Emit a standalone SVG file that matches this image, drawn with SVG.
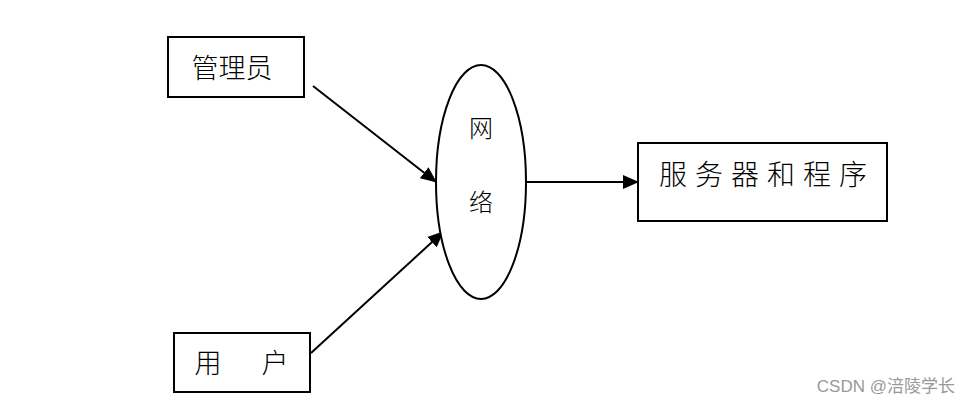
<svg xmlns="http://www.w3.org/2000/svg" width="971" height="404" viewBox="0 0 971 404">
<style>
.box{fill:#fff;stroke:#000;stroke-width:2}
.lbl{font-family:"Noto Sans CJK SC","Noto Sans",sans-serif;font-weight:300;fill:#000;text-anchor:middle}
.edge{stroke:#000;stroke-width:2;fill:none;marker-end:url(#arr)}
</style>
<defs>
<marker id="arr" markerUnits="userSpaceOnUse" markerWidth="16" markerHeight="16" viewBox="0 0 16 16" refX="15" refY="8" orient="auto">
<path d="M0,1 L16,8 L0,15 Z" fill="#000"/>
</marker>
</defs>
<rect width="971" height="404" fill="#fff"/>
<g id="connectors">
<line class="edge" x1="313" y1="86" x2="436" y2="182"/>
<line class="edge" x1="311" y1="353" x2="443" y2="232"/>
<line class="edge" x1="526" y1="182" x2="638" y2="182"/>
</g>
<g id="admin">
<rect class="box" x="168" y="37" width="136" height="60"/>
<text class="lbl" x="232" y="78" font-size="27">管理员</text>
</g>
<g id="network">
<ellipse class="box" cx="481" cy="182" rx="45" ry="117"/>
<text class="lbl" x="481" y="137" font-size="24">网</text>
<text class="lbl" x="481" y="211" font-size="24">络</text>
</g>
<g id="user">
<rect class="box" x="174" y="333" width="136" height="59"/>
<text class="lbl" x="208" y="373" font-size="27">用</text>
<text class="lbl" x="275" y="373" font-size="27">户</text>
</g>
<g id="server">
<rect class="box" x="638" y="143" width="249" height="78"/>
<text class="lbl" x="767" y="185" font-size="28" letter-spacing="8">服务器和程序</text>
</g>
<text x="955" y="392" font-family="'Liberation Sans','Noto Sans CJK SC',sans-serif" font-size="17" fill="#999" text-anchor="end">CSDN @涪陵学长</text>
</svg>
